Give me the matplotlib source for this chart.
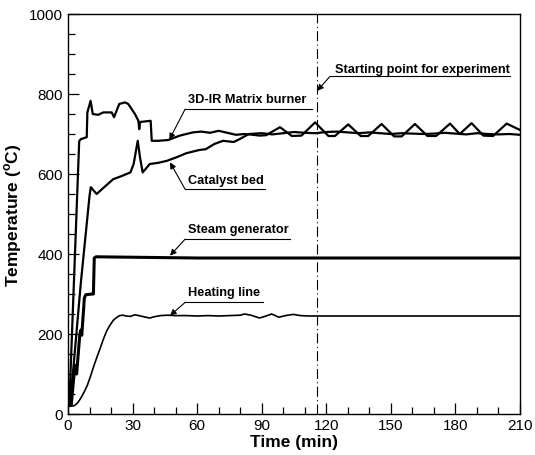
import matplotlib
matplotlib.use("Agg")
import matplotlib.pyplot as plt
from matplotlib.ticker import MultipleLocator

plt.rcParams['font.family'] = ['Liberation Sans', 'DejaVu Sans']
plt.rcParams['mathtext.fontset'] = 'custom'
plt.rcParams['mathtext.rm'] = 'Liberation Sans:bold'
plt.rcParams['mathtext.bf'] = 'Liberation Sans:bold'

# ---------------- data ----------------
burner_t = [0, 0.6, 5.2, 5.9, 8.7, 9.0, 10.5, 11.5, 14, 16.4, 20.3, 21.4, 23.8, 26.5,
            28, 31.1, 32.7, 33.1, 33.5, 38.4, 38.9, 42, 46.6, 50, 52, 55, 58, 62, 66,
            70, 74, 78, 82, 86, 89, 92, 98.5, 104, 108.5, 114.8, 121, 124, 130.2, 136,
            139.5, 145.7, 151.5, 155, 161.2, 167, 171, 177.5, 182, 187.5, 193, 197.5,
            203.8, 210]
burner_T = [20, 21, 682, 687, 692, 754, 783, 750, 748, 754, 754, 742, 775, 779,
            775, 750, 733, 712, 730, 733, 683, 683, 685, 692, 696, 700, 704, 706, 703,
            708, 703, 698, 700, 698, 696, 697, 717, 695, 696, 729, 695, 695, 724, 695,
            695, 725, 694, 694, 725, 695, 695, 726, 700, 727, 696, 695,
            726, 710]

catalyst_t = [0, 0.8, 2.6, 6, 10, 10.6, 13.3, 17, 21, 25, 29, 30.5, 32.4, 33.5, 34.7,
              38, 42, 46, 50.5, 55, 61, 64, 68, 72, 77, 80, 84, 90, 95, 100, 105, 110,
              115, 120, 125, 130, 135, 140, 145, 150, 155, 160, 165, 170, 175, 180,
              185, 190, 195, 200, 205, 210]
catalyst_T = [20, 21, 121, 330, 545, 567, 550, 568, 587, 595, 604, 625, 683, 640, 604,
              625, 628, 633, 642, 652, 660, 662, 675, 683, 680, 688, 700, 702, 699, 702,
              705, 703, 702, 705, 706, 704, 702, 704, 702, 700, 702, 701, 700, 701,
              703, 701, 699, 702, 700, 699, 700, 698]

steam_t = [0, 1.5, 3, 3.4, 4, 5.5, 6.0, 6.4, 7.6, 8.2, 11.2, 11.8, 12.2, 13, 60, 120, 210]
steam_T = [20, 22, 110, 122, 100, 200, 210, 197, 290, 298, 300, 300, 390, 393, 390, 390, 390]

heating_t = [0, 2, 3, 4.5, 6, 7.5, 9, 10.5, 12, 13.5, 15, 16.5, 18, 19.5, 21, 22.5, 24,
             25.5, 27, 29, 31, 33, 36, 38, 40, 43, 46, 50, 55, 60, 65, 70, 75, 80, 82,
             85, 89, 92, 94.6, 98, 101, 104.7, 108, 112, 116, 150, 210]
heating_T = [20, 20, 21, 28, 40, 55, 72, 95, 120, 143, 165, 188, 208, 222, 234, 241, 246,
             247, 245, 244, 248, 246, 242, 240, 243, 246, 247, 246, 246, 245, 246, 245,
             246, 247, 250, 247, 240, 245, 250, 242, 246, 249, 246, 245, 245, 245, 245]

start_time = 115.8

labels = ["3D-IR Matrix burner", "Catalyst bed", "Steam generator", "Heating line",
          "Starting point for experiment"]

# annotation geometry: (text x, text y, underline end x, underline y, arrow tip x, arrow tip y)
ann_geom = [
    (55.8, 787, 113.4, 762, 47.1, 686),
    (55.8, 585, 91.5, 562, 47.4, 629),
    (55.8, 462, 103.1, 437, 47.4, 396),
    (55.8, 305, 90.6, 279, 47.4, 246),
    (124.0, 862, 205.4, 844, 115.8, 808),
]
ul_start = [54.4, 54.4, 54.4, 54.4, 121.7]

# ---------------- figure ----------------
fig = plt.figure(figsize=(5.35, 4.56), dpi=100)
ax = fig.add_axes([68/535, 41/456, 452/535, 400/456])

ax.plot(burner_t, burner_T, color='k', lw=1.6)
ax.plot(catalyst_t, catalyst_T, color='k', lw=1.6)
ax.plot(steam_t, steam_T, color='k', lw=2.2)
ax.plot(heating_t, heating_T, color='k', lw=1.2)
ax.axvline(start_time, color='k', lw=0.8, linestyle=(0, (9, 3, 1, 3)))

for lab, g, xs in zip(labels, ann_geom, ul_start):
    tx, ty, ux, uy, ax_, ay = g
    ax.text(tx, ty, lab, fontsize=9.2, fontweight='bold', ha='left', va='center')
    ax.plot([xs, ux], [uy, uy], color='k', lw=0.8)
    ax.annotate('', xy=(ax_, ay), xytext=(xs, uy),
                arrowprops=dict(arrowstyle='-|>', color='k', lw=0.8,
                                mutation_scale=9, shrinkA=0, shrinkB=0))

ax.set_xlim(0, 210)
ax.set_ylim(0, 1000)
ax.xaxis.set_major_locator(MultipleLocator(30))
ax.xaxis.set_minor_locator(MultipleLocator(10))
ax.yaxis.set_major_locator(MultipleLocator(200))
ax.yaxis.set_minor_locator(MultipleLocator(50))
ax.tick_params(which='both', direction='in', top=False, right=False, labelsize=11)
ax.tick_params(which='major', length=8, width=0.9)
ax.tick_params(which='minor', length=5, width=0.9)
ax.tick_params(axis='x', pad=3)
for s in ax.spines.values():
    s.set_linewidth(1.0)

ax.set_xlabel('Time (min)', fontsize=12.5, fontweight='bold', labelpad=1)
ax.set_ylabel(r'Temperature ($^{\mathrm{o}}$C)', fontsize=12.5, fontweight='bold', labelpad=4)

fig.savefig('out.png', dpi=100)
